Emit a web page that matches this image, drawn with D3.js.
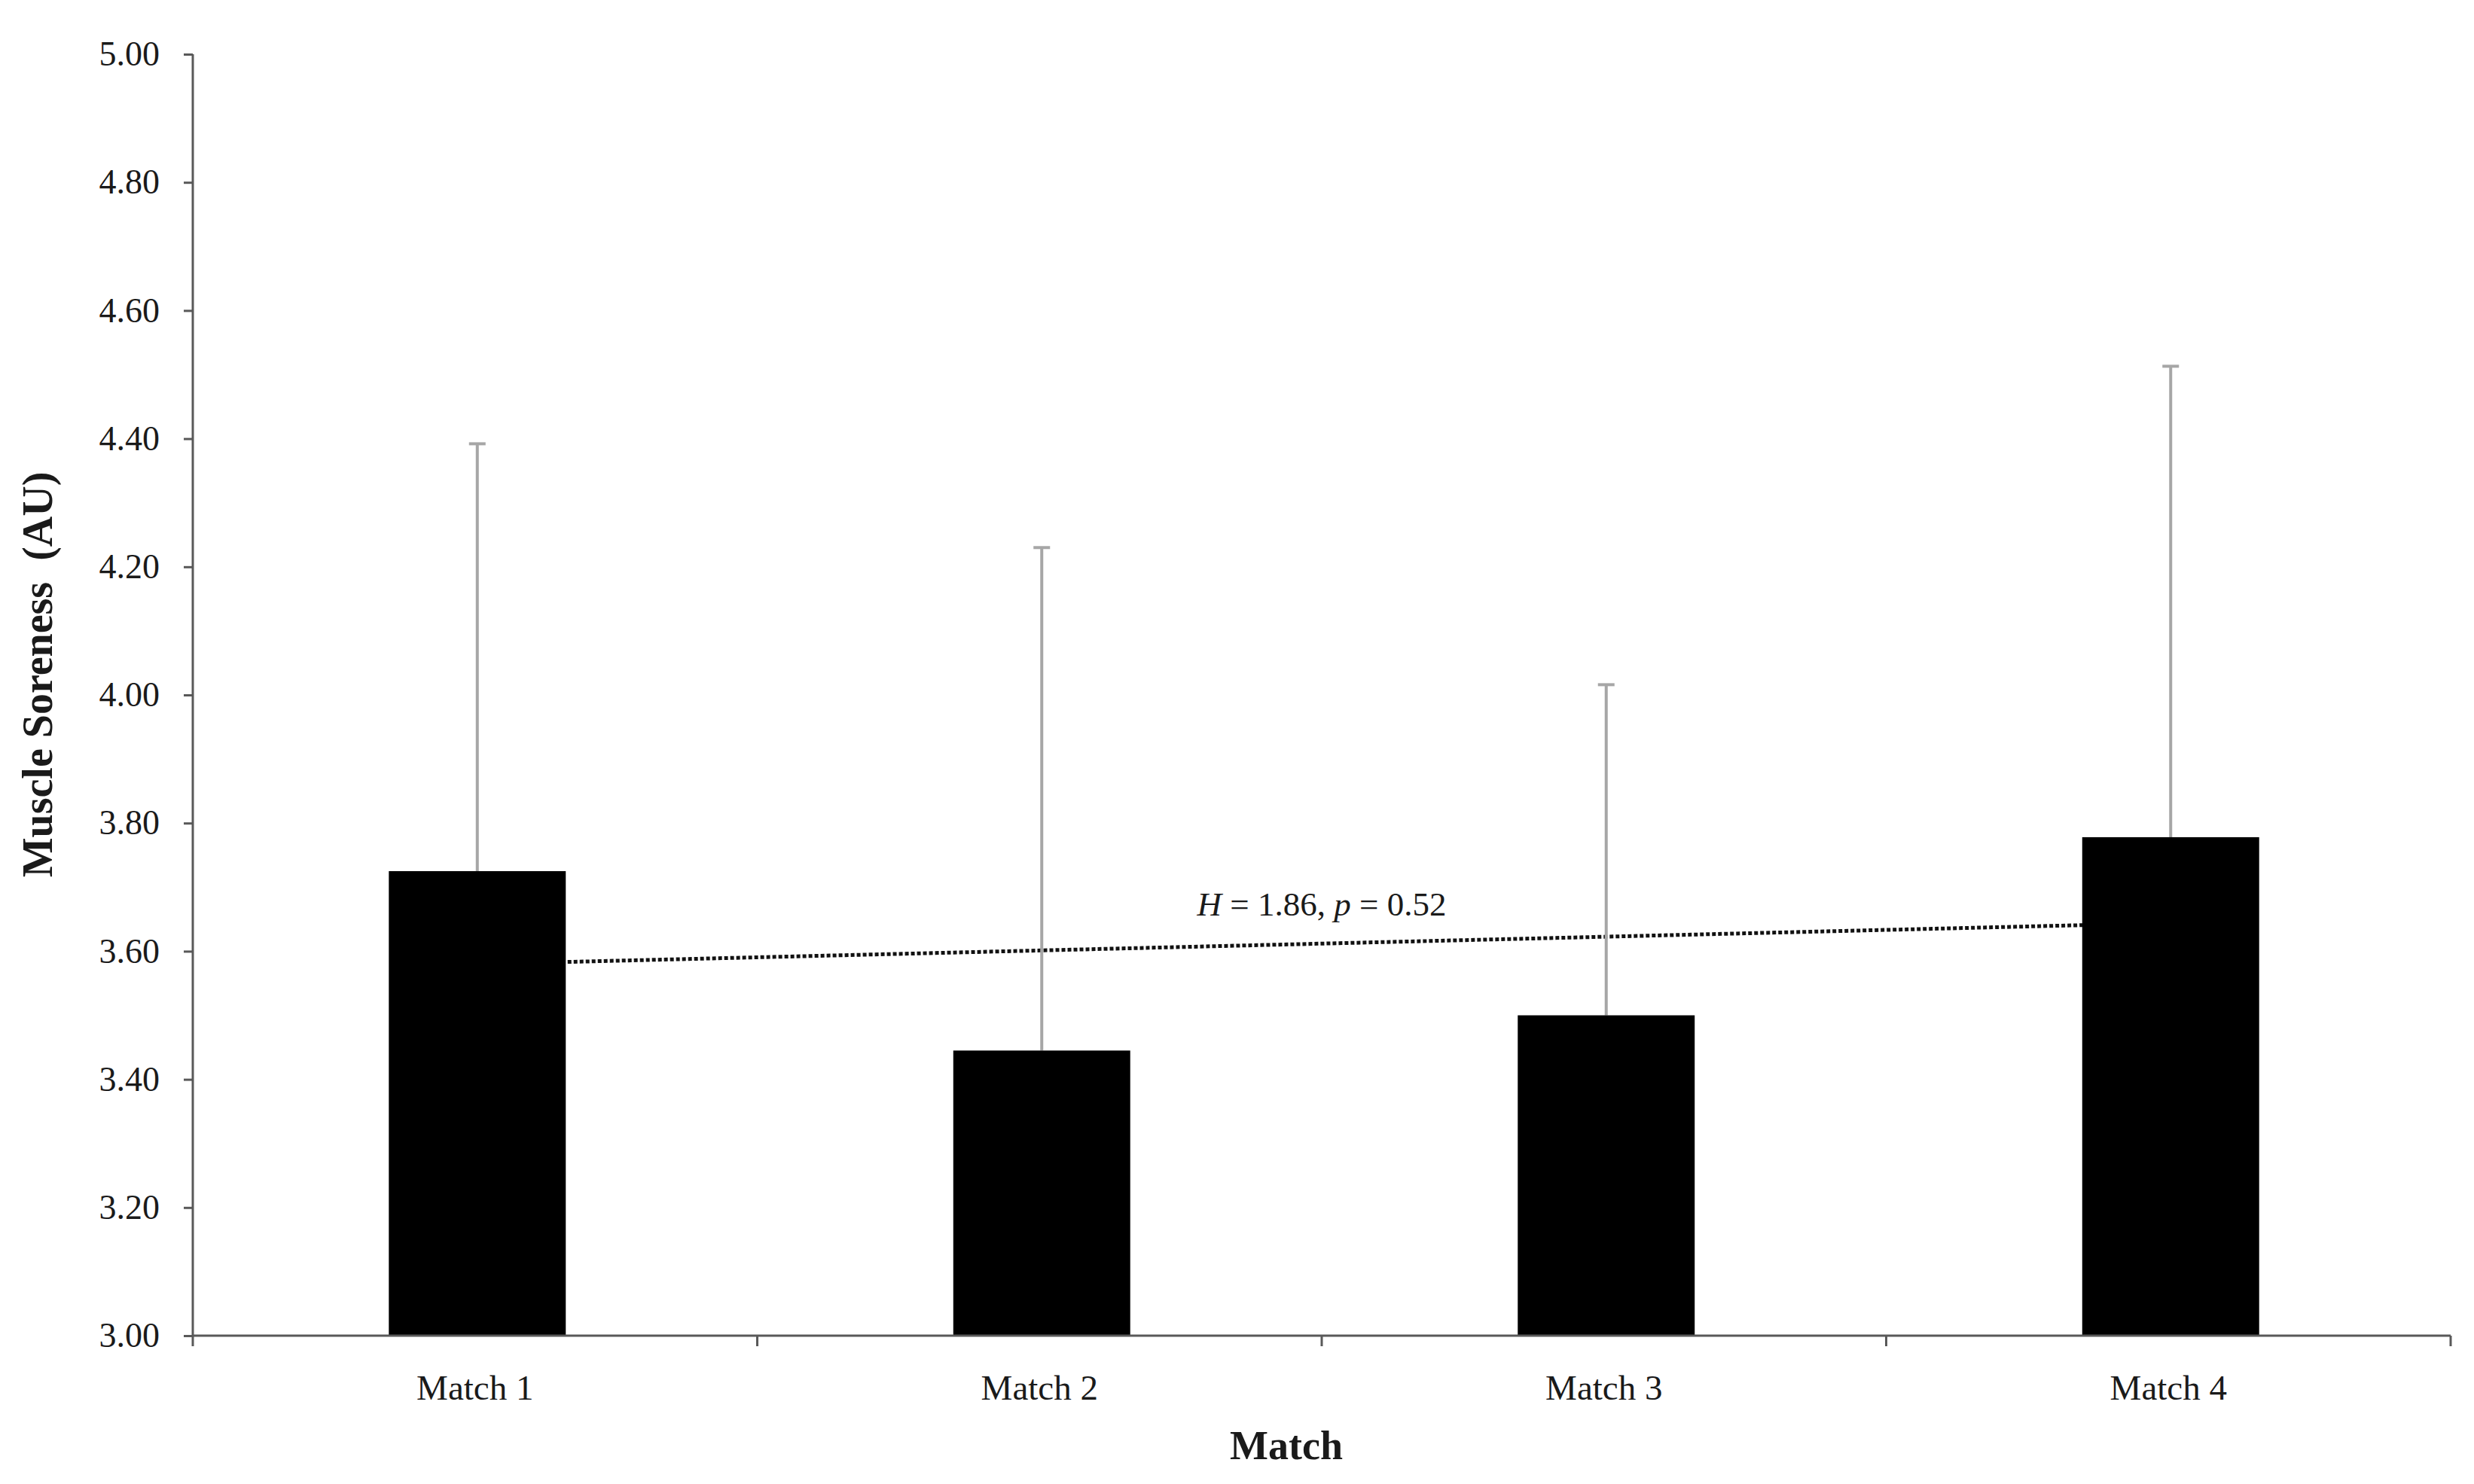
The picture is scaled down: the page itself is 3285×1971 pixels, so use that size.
<!DOCTYPE html>
<html>
<head>
<meta charset="utf-8">
<script src="https://cdn.jsdelivr.net/npm/d3@7"></script>
<style>
  html, body { margin: 0; padding: 0; background: #fff; }
  svg { display: block; }
  text { font-family: "Liberation Serif", "DejaVu Serif", serif; fill: #1a1a1a; }
</style>
</head>
<body>
<svg id="chart" width="3285" height="1971"></svg>
<script>
// ---- data ----
const categories = ["Match 1", "Match 2", "Match 3", "Match 4"];
const means      = [3.725, 3.445, 3.50, 3.778];
const sdUpper    = [0.667, 0.785, 0.516, 0.735];   // +SD error bars
const yTicks     = [3.0, 3.2, 3.4, 3.6, 3.8, 4.0, 4.2, 4.4, 4.6, 4.8, 5.0];
const annotation = { H: "1.86", p: "0.52" };

// ---- layout ----
const W = 3285, H = 1971;
const m = { left: 256, right: 31, top: 72, bottom: 197 };
const x0 = m.left, x1 = W - m.right, y0 = H - m.bottom, y1 = m.top;

const svg = d3.select("#chart");

const x = d3.scaleBand().domain(categories).range([x0, x1]).padding(0);
const y = d3.scaleLinear().domain([3, 5]).range([y0, y1]);
const barW = x.bandwidth() / 3.19;   // Excel gap width 219%
const cx = c => x(c) + x.bandwidth() / 2 + 3;

const axisColor = "#595959";

// trendline (linear least squares over the means), behind bars
const n = means.length;
const xs = d3.range(1, n + 1);
const mx = d3.mean(xs), my = d3.mean(means);
const slope = d3.sum(xs, (v, i) => (v - mx) * (means[i] - my)) / d3.sum(xs, v => (v - mx) ** 2);
const icpt = my - slope * mx;
svg.append("line")
  .attr("x1", cx(categories[0])).attr("y1", y(icpt + slope * 1))
  .attr("x2", cx(categories[n - 1])).attr("y2", y(icpt + slope * n))
  .attr("stroke", "#111").attr("stroke-width", 5)
  .attr("stroke-dasharray", "5 3");

// error bars
const eb = svg.append("g").attr("stroke", "#a6a6a6").attr("stroke-width", 4);
categories.forEach((c, i) => {
  const top = y(means[i] + sdUpper[i]);
  eb.append("line").attr("x1", cx(c)).attr("x2", cx(c))
    .attr("y1", y(means[i])).attr("y2", top);
  eb.append("line").attr("x1", cx(c) - 11).attr("x2", cx(c) + 11)
    .attr("y1", top).attr("y2", top);
});

// bars
svg.append("g").selectAll("rect").data(categories).join("rect")
  .attr("x", c => cx(c) - barW / 2)
  .attr("width", barW)
  .attr("y", (c, i) => y(means[i]))
  .attr("height", (c, i) => y0 - y(means[i]))
  .attr("fill", "#000");

// y axis
const yAxis = svg.append("g").attr("transform", `translate(${x0},0)`)
  .call(d3.axisLeft(y).tickValues(yTicks).tickFormat(d3.format(".2f")).tickSize(12).tickPadding(32));
yAxis.select(".domain").attr("stroke", axisColor).attr("stroke-width", 3).attr("d", `M0,${y1}V${y0}`);
yAxis.selectAll(".tick line").attr("stroke", axisColor).attr("stroke-width", 3);
yAxis.selectAll(".tick text").attr("font-size", 46).attr("fill", "#1a1a1a")
  .attr("font-family", "Liberation Serif, serif");

// x axis
const xAxis = svg.append("g").attr("transform", `translate(0,${y0})`)
  .call(d3.axisBottom(x).tickSize(0).tickPadding(52));
xAxis.select(".domain").attr("stroke", axisColor).attr("stroke-width", 3).attr("d", `M${x0},0H${x1}`);
xAxis.selectAll(".tick text").attr("font-size", 47).attr("fill", "#1a1a1a")
  .attr("font-family", "Liberation Serif, serif");
// category boundary ticks
const bounds = categories.map(c => x(c)).concat([x1]);
xAxis.append("g").selectAll("line").data(bounds).join("line")
  .attr("x1", d => d).attr("x2", d => d).attr("y1", 0).attr("y2", 14)
  .attr("stroke", axisColor).attr("stroke-width", 3);

// axis titles
svg.append("text")
  .attr("x", 1708).attr("y", 1938)
  .attr("text-anchor", "middle").attr("font-weight", "bold").attr("font-size", 54)
  .text("Match");

svg.append("text")
  .attr("transform", `translate(69,${896}) rotate(-90)`)
  .attr("text-anchor", "middle").attr("font-weight", "bold").attr("font-size", 56)
  .style("white-space", "pre")
  .text("Muscle Soreness  (AU)");

// annotation
const ann = svg.append("text")
  .attr("x", (x(categories[1]) + x.bandwidth())).attr("y", 1216)
  .attr("text-anchor", "middle").attr("font-size", 45);
ann.append("tspan").attr("font-style", "italic").text("H");
ann.append("tspan").text(` = ${annotation.H}, `);
ann.append("tspan").attr("font-style", "italic").text("p");
ann.append("tspan").text(` = ${annotation.p}`);
</script>
</body>
</html>
